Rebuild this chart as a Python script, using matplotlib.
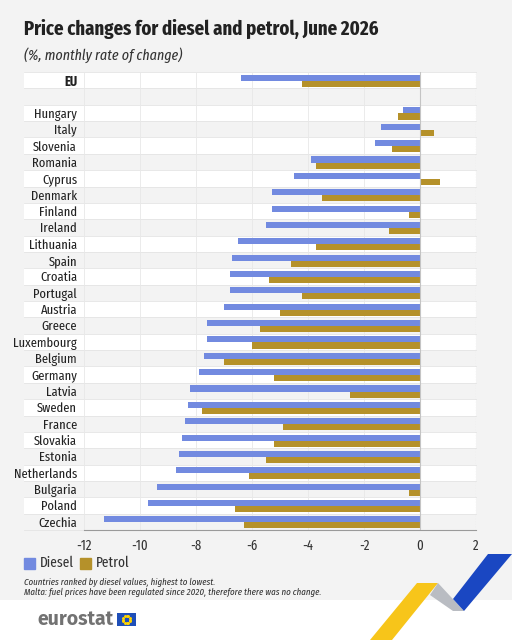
import numpy as np
import matplotlib.pyplot as plt
from matplotlib.patches import Polygon, Rectangle

plt.rcParams['font.family'] = ['Fira Sans Extra Condensed', 'Fira Sans Condensed', 'DejaVu Sans']

countries = ['EU', '', 'Hungary', 'Italy', 'Slovenia', 'Romania', 'Cyprus', 'Denmark',
             'Finland', 'Ireland', 'Lithuania', 'Spain', 'Croatia', 'Portugal', 'Austria',
             'Greece', 'Luxembourg', 'Belgium', 'Germany', 'Latvia', 'Sweden', 'France',
             'Slovakia', 'Estonia', 'Netherlands', 'Bulgaria', 'Poland', 'Czechia']
diesel = [-6.4, np.nan, -0.6, -1.4, -1.6, -3.9, -4.5, -5.3, -5.3, -5.5, -6.5, -6.7, -6.8,
          -6.8, -7.0, -7.6, -7.6, -7.7, -7.9, -8.2, -8.3, -8.4, -8.5, -8.6, -8.7, -9.4,
          -9.7, -11.3]
petrol = [-4.2, np.nan, -0.8, 0.5, -1.0, -3.7, 0.7, -3.5, -0.4, -1.1, -3.7, -4.6, -5.4,
          -4.2, -5.0, -5.7, -6.0, -7.0, -5.2, -2.5, -7.8, -4.9, -5.2, -5.5, -6.1, -0.4,
          -6.6, -6.3]
xticks = [-12, -10, -8, -6, -4, -2, 0, 2]

c_diesel = '#728ae0'
c_petrol = '#b5912a'
bg = '#f3f3f3'

fig = plt.figure(figsize=(5.12, 6.4), dpi=100, facecolor=bg)
ax = fig.add_axes([84 / 512, 1 - 530 / 640, 392 / 512, 458 / 640])
ax.set_facecolor(bg)

y = np.arange(len(countries))
ax.set_ylim(len(countries) - 0.5, -0.5)
ax.set_xlim(-12, 2)

# white stripes, extended into the label column
lab_left = (24 - 84) / 392
for i in range(0, len(countries), 2):
    ax.axhspan(i - 0.5, i + 0.5, xmin=lab_left, xmax=1, color='white', zorder=0,
               clip_on=False, lw=0)
for i in range(len(countries) + 1):
    ax.axhline(i - 0.5, xmin=lab_left, xmax=1, color='#e4e4e4', lw=0.6, zorder=0.5,
               clip_on=False)

for xv in xticks[:-1]:
    ax.axvline(xv, color='#e8e8e8', lw=0.6, zorder=0.6)
ax.axvline(2, color='#c8c8c8', lw=0.8, ls=(0, (1, 1.5)), zorder=0.6)

ax.barh(y - 0.15, diesel, height=0.37, color=c_diesel, zorder=2, label='Diesel')
ax.barh(y + 0.22, petrol, height=0.37, color=c_petrol, zorder=2, label='Petrol')
ax.axvline(0, color='#c4c4c4', lw=0.8, zorder=3)

for s in ['top', 'right', 'left']:
    ax.spines[s].set_visible(False)
ax.spines['bottom'].set_color('#9a9a9a')
ax.spines['bottom'].set_linewidth(0.8)

ax.set_yticks(y)
ax.set_yticklabels(countries, fontsize=9.8, color='#222222')
ax.get_yticklabels()[0].set_fontweight('bold')
ax.tick_params(axis='y', length=0, pad=5)
ax.set_xticks(xticks)
ax.set_xticklabels([str(v) for v in xticks], fontsize=10, color='#333333')
ax.tick_params(axis='x', length=0, pad=6)

fig.text(24 / 512, 1 - 29 / 640, 'Price changes for diesel and petrol, June 2026',
         fontsize=14.7, fontweight='bold', color='#222222', va='center')
fig.text(24 / 512, 1 - 55 / 640, '(%, monthly rate of change)', fontsize=11,
         style='italic', color='#333333', va='center')

# legend
for x0, lab, col in [(24, 'Diesel', c_diesel), (80, 'Petrol', c_petrol)]:
    fig.patches.append(Rectangle((x0 / 512, 1 - 569 / 640), 11 / 512, 11 / 640,
                                 transform=fig.transFigure, color=col))
    fig.text((x0 + 16) / 512, 1 - 563 / 640, lab, fontsize=10.5, color='#333333',
             va='center')

fig.text(24 / 512, 1 - 582 / 640, 'Countries ranked by diesel values, highest to lowest.',
         fontsize=7, style='italic', color='#333333', va='center')
fig.text(24 / 512, 1 - 592 / 640,
         'Malta: fuel prices have been regulated since 2020, therefore there was no change.',
         fontsize=7, style='italic', color='#333333', va='center')

# footer band and logo
deco = fig.add_axes([0, 0, 1, 1], zorder=-1)
deco.set_xlim(0, 512)
deco.set_ylim(640, 0)
deco.axis('off')
deco.add_patch(Rectangle((0, 600), 512, 40, color='white', lw=0))
deco.add_patch(Polygon([(370, 640), (417, 583), (438, 583), (392, 640)],
                       color='#f7c51a', lw=0))
deco.add_patch(Polygon([(430, 595), (438, 583), (464, 611), (453, 611)],
                       color='#b9bcc2', lw=0))
deco.add_patch(Polygon([(488, 554), (512, 554), (464, 611), (453, 599)],
                       color='#1a47c2', lw=0))

fig.text(37 / 512, 1 - 619 / 640, 'eurostat', fontsize=14, fontweight='bold',
         color='#727272', va='center', family=['Fira Sans', 'DejaVu Sans'])
flag = fig.add_axes([117 / 512, 1 - 626 / 640, 19 / 512, 13 / 640])
flag.set_facecolor('#1f4fb8')
flag.set_xlim(-1.5, 1.5)
flag.set_ylim(-1, 1)
flag.set_xticks([])
flag.set_yticks([])
for s in flag.spines.values():
    s.set_visible(False)
ang = np.linspace(0, 2 * np.pi, 12, endpoint=False)
flag.scatter(0.6 * np.cos(ang), 0.6 * np.sin(ang), s=1.2, color='#ffd400')

fig.savefig('out.png', dpi=100, facecolor=bg)
